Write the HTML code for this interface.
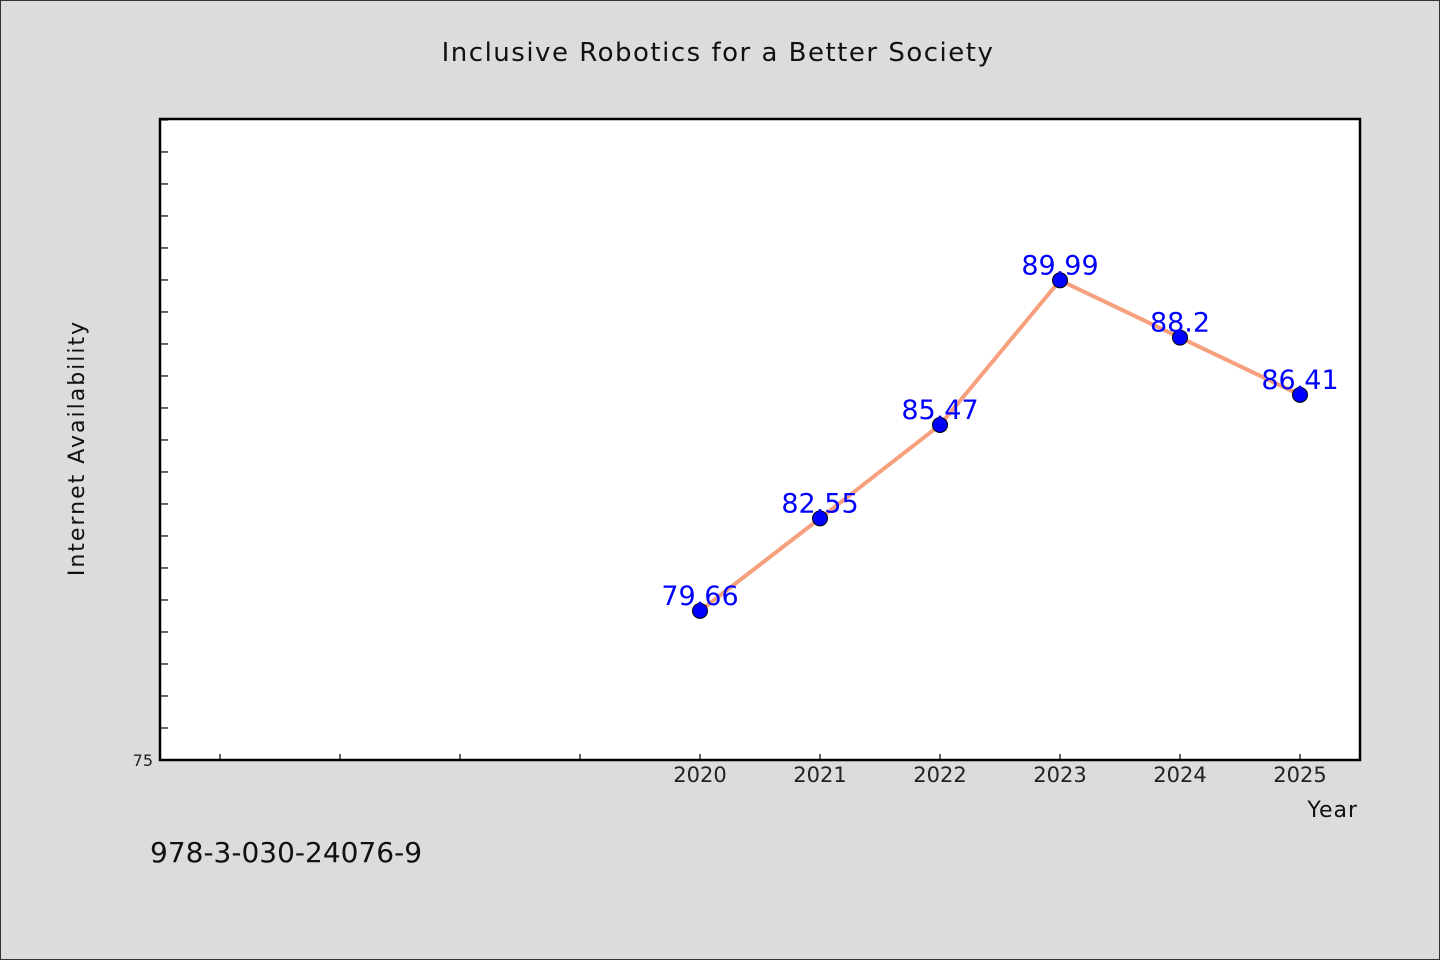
<!DOCTYPE html>
<html><head><meta charset="utf-8"><style>
html,body{margin:0;padding:0;background:#dcdcdc;}
svg{display:block;font-family:"WenQuanYi Zen Hei","DejaVu Sans",sans-serif;}
</style></head><body>
<svg id="chart" width="1440" height="960" xmlns="http://www.w3.org/2000/svg">
<rect x="0.5" y="0.5" width="1439" height="959" fill="#dcdcdc" stroke="#333"/>
<text x="718" y="61" text-anchor="middle" font-size="26" fill="#111" letter-spacing="1.5">Inclusive Robotics for a Better Society</text>
<rect x="160" y="119" width="1200" height="641" fill="#fff" stroke="#000" stroke-width="2.5"/>
<g id="ticks"></g>
<g id="series"></g>
<text transform="translate(84,448) rotate(-90)" text-anchor="middle" font-size="22" fill="#111" letter-spacing="2">Internet Availability</text>
<text x="1358" y="817" text-anchor="end" font-size="22" fill="#111" letter-spacing="1">Year</text>
<text x="150" y="862" font-size="28" fill="#111">978-3-030-24076-9</text>
</svg>
<script>
const categories=[2020,2021,2022,2023,2024,2025];
const values=[79.66,82.55,85.47,89.99,88.2,86.41];
const valueLabels=["79.66","82.55","85.47","89.99","88.2","86.41"];
const yTickLabels=["75"];
const NS="http://www.w3.org/2000/svg";
const X0=160,X1=1360,Y0=760,Y1=119;
const xMin=2015.5,xMax=2025.5,yMin=75,yMax=95.03;
function sx(v){return X0+(v-xMin)/(xMax-xMin)*(X1-X0);}
function sy(v){return Y0-(v-yMin)/(yMax-yMin)*(Y0-Y1);}
function mk(tag,attrs,parent){const e=document.createElementNS(NS,tag);for(const k in attrs)e.setAttribute(k,attrs[k]);parent.appendChild(e);return e;}
const tg=document.getElementById('ticks');
for(let v=76;v<=95;v++){
  const t=mk('line',{x1:X0,x2:X0+8,y1:sy(v),y2:sy(v),stroke:'#000','stroke-width':1.2},tg);
  
  
}
const yl=mk('text',{x:153,y:sy(75)+6,'text-anchor':'end','font-size':16,fill:'#222'},tg);
yl.textContent=yTickLabels[0];


for(let yr=2016;yr<=2025;yr++){
  const t=mk('line',{x1:sx(yr),x2:sx(yr),y1:Y0,y2:Y0-6,stroke:'#000','stroke-width':1.2},tg);
  
  
}
categories.forEach(c=>{
  const l=mk('text',{x:sx(c),y:782,'text-anchor':'middle','font-size':21,fill:'#222'},tg);
  l.textContent=String(c);
  
  
});
const sg=document.getElementById('series');
const pts=categories.map((c,i)=>sx(c)+','+sy(values[i])).join(' ');
const line=mk('polyline',{points:pts,fill:'none',stroke:'#f7a07e','stroke-width':4,'stroke-linejoin':'round'},sg);


categories.forEach((c,i)=>{
  const p=mk('circle',{cx:sx(c),cy:sy(values[i]),r:7.5,fill:'#0000ff',stroke:'#000','stroke-width':1},sg);
  
  
  const t=mk('text',{x:sx(c),y:sy(values[i])-6,'text-anchor':'middle','font-size':27,fill:'#0000ff'},sg);
  t.textContent=valueLabels[i];
  
  
});
</script>
</body></html>
